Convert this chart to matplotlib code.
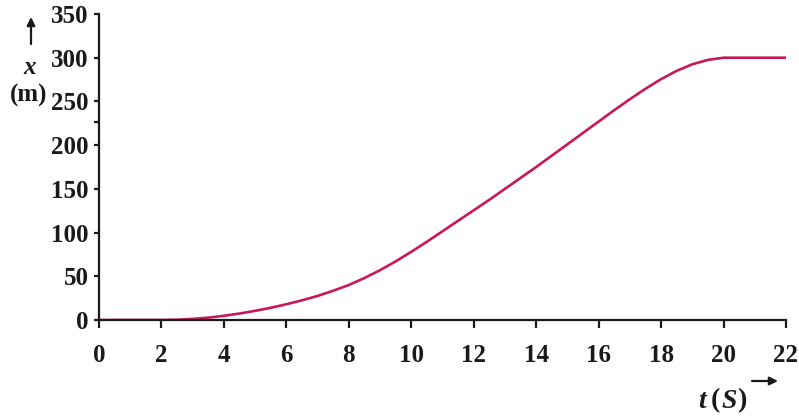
import matplotlib.pyplot as plt
from matplotlib.ticker import FixedLocator

# position-time readings for the car
t_values = [0, 1, 2, 2.5, 3, 3.5, 4, 4.5, 5, 5.5, 6, 6.5, 7, 7.5, 8, 8.5, 9, 9.5,
            10, 10.5, 11, 11.5, 12, 12.5, 13, 13.5, 14, 14.5, 15, 15.5, 16, 16.5,
            17, 17.5, 18, 18.5, 19, 19.5, 20, 21, 22]
x_values = [0, 0, 0, 0.3, 1.2, 2.7, 4.8, 7.4, 10.5, 14, 18, 22.5, 27.5, 33.5, 40,
            48, 57, 67, 78, 89.5, 101.5, 113.5, 125.5, 137.5, 150, 162.5, 175,
            188, 201, 214, 227, 240, 252.5, 264.5, 275.5, 285, 292.5, 297.5, 300,
            300, 300]

x_ticks = list(range(0, 23, 2))
y_ticks = list(range(0, 351, 50))

plt.rcParams['font.family'] = ['Liberation Serif', 'DejaVu Serif']
plt.rcParams['font.weight'] = 'bold'

ink = '#1a1a1a'

fig = plt.figure(figsize=(7.99, 4.18), dpi=100)
ax = fig.add_axes([99 / 799, 1 - 320 / 418, 687 / 799, 306 / 418])

ax.plot(t_values, x_values, color='#C8175A', linewidth=1.9,
        solid_joinstyle='round')

ax.set_xlim(0, 22)
ax.set_ylim(0, 350)
ax.set_xticks(x_ticks)
ax.set_yticks(y_ticks)
ax.yaxis.set_minor_locator(FixedLocator([227]))

for side in ['top', 'right']:
    ax.spines[side].set_visible(False)
for side in ['left', 'bottom']:
    ax.spines[side].set_linewidth(1.6)
    ax.spines[side].set_color(ink)

ax.tick_params(axis='x', direction='out', length=6, width=1.6, pad=11,
               labelsize=18, colors=ink)
ax.tick_params(axis='y', direction='out', length=3.5, width=1.6, pad=4,
               labelsize=18, colors=ink)
ax.tick_params(axis='y', which='minor', length=3.5, width=1.6, colors=ink)
for lbl in ax.get_xticklabels() + ax.get_yticklabels():
    lbl.set_fontweight('bold')

# vertical caption: arrow, x, (m)
ax.annotate('', xy=(31 / 799, 1 - 17 / 418), xytext=(31 / 799, 1 - 44 / 418),
            xycoords='figure fraction',
            arrowprops=dict(arrowstyle='-|>', color=ink, lw=1.6,
                            mutation_scale=12, shrinkA=0, shrinkB=0))
fig.text(30 / 799, 1 - 67 / 418, 'x', ha='center', va='center', fontsize=18,
         style='italic', weight='bold', color=ink)
fig.text(29 / 799, 1 - 95 / 418, '(m)', ha='center', va='center', fontsize=18,
         weight='bold', color=ink)

# horizontal caption: t (S) with arrow
cap_y = 1 - 401 / 418
fig.text(698 / 799, cap_y, 't', ha='left', va='center', fontsize=20,
         style='italic', weight='bold', color=ink)
fig.text(711 / 799, cap_y, '(', ha='left', va='center', fontsize=20,
         weight='bold', color=ink)
fig.text(721 / 799, cap_y, 'S', ha='left', va='center', fontsize=20,
         style='italic', weight='bold', color=ink)
fig.text(737 / 799, cap_y, ')', ha='left', va='center', fontsize=20,
         weight='bold', color=ink)
ax.annotate('', xy=(778 / 799, 1 - 381 / 418), xytext=(752 / 799, 1 - 381 / 418),
            xycoords='figure fraction',
            arrowprops=dict(arrowstyle='-|>', color=ink, lw=1.6,
                            mutation_scale=12, shrinkA=0, shrinkB=0))

fig.savefig('out.png', dpi=100)
